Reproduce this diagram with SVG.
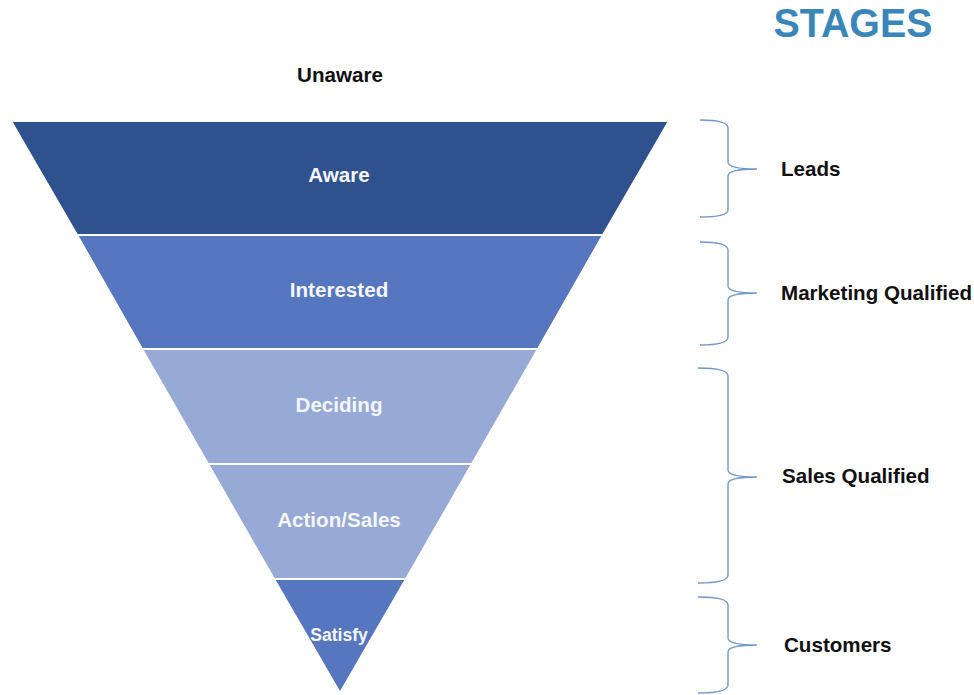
<svg xmlns="http://www.w3.org/2000/svg" width="974" height="695" viewBox="0 0 974 695">
  <style>
    .band { stroke: #ffffff; stroke-width: 2; stroke-linejoin: miter; }
    .inner { font-family: "Liberation Sans", Arial, sans-serif; font-weight: bold; font-size: 20.6px; fill: #f4f6fb; text-anchor: middle; }
    .side { font-family: "Liberation Sans", Arial, sans-serif; font-weight: bold; font-size: 20.6px; fill: #111111; }
    .brace { fill: none; stroke: #6f98cc; stroke-width: 1.4; }
  </style>
  <rect width="974" height="695" fill="#ffffff"/>

  <text x="853" y="37" font-family="Liberation Sans, Arial, sans-serif" font-weight="bold" font-size="40" fill="#3a86ba" text-anchor="middle" textLength="159" lengthAdjust="spacingAndGlyphs">STAGES</text>
  <text class="side" x="340" y="82" text-anchor="middle">Unaware</text>

  <!-- funnel bands, top to bottom -->
  <g id="aware">
    <polygon class="band" points="11,121 669,121 603,235 77,235" fill="#2f528e"/>
    <text class="inner" x="339" y="182">Aware</text>
  </g>
  <g id="interested">
    <polygon class="band" points="77,235 603,235 538,349 142,349" fill="#5676c0"/>
    <text class="inner" x="339" y="297">Interested</text>
  </g>
  <g id="deciding">
    <polygon class="band" points="142,349 538,349 472,464 208,464" fill="#97a9d5"/>
    <text class="inner" x="339" y="412">Deciding</text>
  </g>
  <g id="action-sales">
    <polygon class="band" points="208,464 472,464 406,579 274,579" fill="#97a9d5"/>
    <text class="inner" x="339" y="527">Action/Sales</text>
  </g>
  <g id="satisfy">
    <polygon class="band" points="274,579 406,579 340,693" fill="#5676c0"/>
    <text class="inner" x="339" y="641" style="font-size:17.6px">Satisfy</text>
  </g>

  <!-- braces grouping the stages -->
  <g id="connectors">
    <path class="brace" d="M700,120 Q728,120 728,128 L728,162 Q728,169 757,169 Q728,169 728,176 L728,210 Q728,217 700,217"/>
    <path class="brace" d="M700,242 Q728,242 728,250 L728,286 Q728,293 757,293 Q728,293 728,300 L728,337 Q728,345 700,345"/>
    <path class="brace" d="M698,368 Q728,368 728,376 L728,470 Q728,477 757,477 Q728,477 728,484 L728,575 Q728,583 698,583"/>
    <path class="brace" d="M698,597 Q728,597 728,605 L728,638 Q728,645 757,645 Q728,645 728,652 L728,685 Q728,693 698,693"/>
  </g>

  <g id="leads"><text class="side" x="781" y="176">Leads</text></g>
  <g id="marketing-qualified"><text class="side" x="781" y="300">Marketing Qualified</text></g>
  <g id="sales-qualified"><text class="side" x="782" y="483">Sales Qualified</text></g>
  <g id="customers"><text class="side" x="784" y="652">Customers</text></g>
</svg>
